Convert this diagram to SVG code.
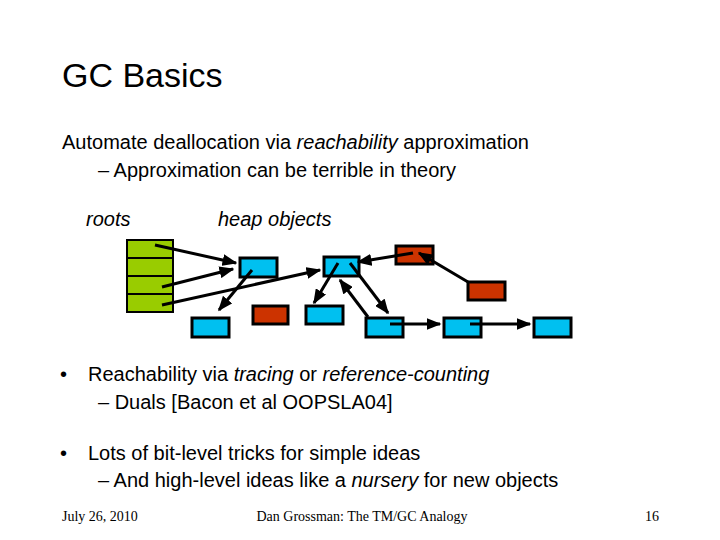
<svg xmlns="http://www.w3.org/2000/svg" width="720" height="540" viewBox="0 0 720 540">
<defs><marker id="a" markerWidth="5" markerHeight="4" refX="4.5" refY="2" orient="auto" markerUnits="strokeWidth"><path d="M0,0L5,2L0,4Z" fill="#000"/></marker>
<style>text{font-family:"Liberation Sans",Arial,sans-serif;fill:#000}.b{fill:#00c0f0;stroke:#000;stroke-width:3}.r{fill:#cc3300;stroke:#000;stroke-width:3}.g{fill:#99cc00;stroke:#000;stroke-width:2}.c line{stroke:#000;stroke-width:3;marker-end:url(#a)}.f{font-family:"Liberation Serif",serif;font-size:14px}</style></defs>
<rect width="720" height="540" fill="#fff"/>
<text x="62" y="87" font-size="34">GC Basics</text>
<text x="62" y="149" font-size="20">Automate deallocation via <tspan font-style="italic">reachability</tspan> approximation</text>
<text x="98" y="177" font-size="20">–  Approximation can be terrible in theory</text>
<text x="86" y="226" font-size="20" font-style="italic">roots</text>
<text x="218" y="226" font-size="20" font-style="italic">heap objects</text>
<g id="roots"><rect class="g" x="127" y="240" width="46" height="18"/><rect class="g" x="127" y="258" width="46" height="18"/><rect class="g" x="127" y="276" width="46" height="18"/><rect class="g" x="127" y="294" width="46" height="18"/></g>
<g id="n1"><rect class="b" x="240" y="258" width="37" height="19"/></g>
<g id="n2"><rect class="b" x="324" y="257" width="35" height="19"/></g>
<g id="n3"><rect class="r" x="396" y="246" width="37" height="18"/></g>
<g id="n4"><rect class="r" x="468" y="282" width="37" height="18"/></g>
<g id="n5"><rect class="b" x="192" y="318" width="37" height="19"/></g>
<g id="n6"><rect class="r" x="253" y="306" width="35" height="18"/></g>
<g id="n7"><rect class="b" x="306" y="306" width="37" height="18"/></g>
<g id="n8"><rect class="b" x="366" y="318" width="37" height="19"/></g>
<g id="n9"><rect class="b" x="444" y="318" width="37" height="19"/></g>
<g id="n10"><rect class="b" x="534" y="318" width="37" height="19"/></g>
<g class="c" id="connectors">
<line x1="155" y1="245" x2="236" y2="263"/>
<line x1="162" y1="287" x2="233" y2="269"/>
<line x1="162" y1="305" x2="320" y2="270"/>
<line x1="252" y1="270" x2="219" y2="310"/>
<line x1="338" y1="263" x2="314" y2="303"/>
<line x1="350" y1="263" x2="388" y2="313"/>
<line x1="368" y1="317" x2="340" y2="280"/>
<line x1="413" y1="253" x2="358" y2="262"/>
<line x1="468" y1="282" x2="419" y2="253"/>
<line x1="390" y1="324" x2="440" y2="324"/>
<line x1="470" y1="324" x2="530" y2="324"/>
</g>
<text x="60" y="381" font-size="20">•</text>
<text x="88" y="381" font-size="20">Reachability via <tspan font-style="italic">tracing</tspan> or <tspan font-style="italic">reference-counting</tspan></text>
<text x="98" y="409" font-size="20">–  Duals [Bacon et al OOPSLA04]</text>
<text x="60" y="460" font-size="20">•</text>
<text x="88" y="460" font-size="20">Lots of bit-level tricks for simple ideas</text>
<text x="98" y="487" font-size="20">–  And high-level ideas like a <tspan font-style="italic">nursery</tspan> for new objects</text>
<text class="f" x="62" y="521">July 26, 2010</text>
<text class="f" x="362" y="521" text-anchor="middle">Dan Grossman: The TM/GC Analogy</text>
<text class="f" x="659" y="521" text-anchor="end">16</text>
</svg>
